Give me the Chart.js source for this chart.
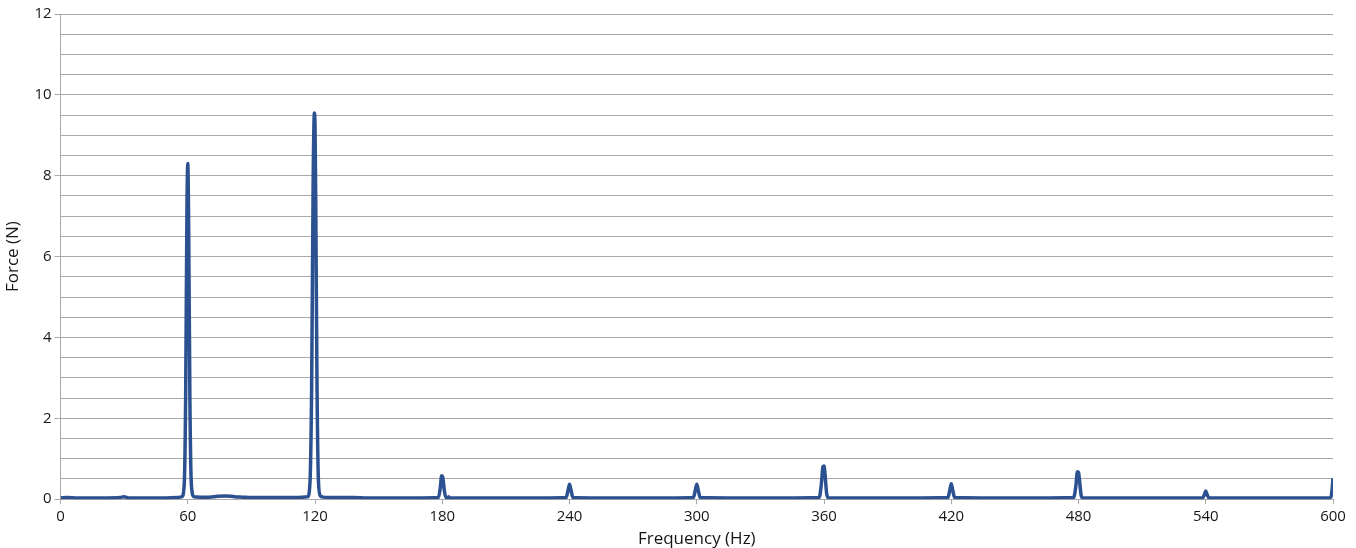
<!DOCTYPE html>
<html>
<head>
<meta charset="utf-8">
<script src="https://cdn.jsdelivr.net/npm/chart.js@4.4.1/dist/chart.umd.min.js"></script>
<style>
  html, body { margin: 0; padding: 0; background: #fff; }
  #wrap { width: 1356px; height: 548px; }
</style>
</head>
<body>
<div id="wrap"><canvas id="spectrum" width="1356" height="548"></canvas></div>
<script>
// spectrum samples (Hz / N)
const freq = [
  0, 3, 8, 15, 22, 28, 30, 32, 40, 48, 55,
  57.2, 58.3, 59.0, 59.6, 60, 60.4, 61.0, 61.7, 62.9,
  66, 70, 74, 78, 82, 86, 90, 96, 104, 112,
  116.5, 117.6, 118.4, 119.1, 119.7, 120, 120.3, 120.9, 121.6, 122.5, 123.8,
  130, 138, 145, 155, 170,
  178.2, 179.1, 179.7, 180.3, 181.0, 181.8, 182.6, 183, 183.4,
  190, 210, 230,
  238.4, 239.3, 240, 240.7, 241.6,
  250, 270, 290,
  298.4, 299.3, 300, 300.7, 301.6,
  320, 340,
  357.7, 358.7, 359.5, 360, 360.5, 361.3, 362.3,
  380, 400,
  418.4, 419.3, 420, 420.7, 421.6,
  440, 460,
  477.7, 478.7, 479.5, 480, 480.5, 481.3, 482.3,
  500, 520,
  538.5, 539.4, 540, 540.6, 541.5,
  560, 580,
  598.0, 599.0, 599.6, 600
];
const force = [
  0.03, 0.04, 0.03, 0.03, 0.03, 0.04, 0.06, 0.03, 0.03, 0.03, 0.04,
  0.06, 0.35, 2.6, 7.2, 8.3, 6.8, 2.4, 0.35, 0.06,
  0.05, 0.05, 0.07, 0.08, 0.06, 0.05, 0.04, 0.04, 0.04, 0.04,
  0.06, 0.4, 2.8, 7.8, 9.55, 9.2, 7.6, 3.0, 0.45, 0.08, 0.05,
  0.04, 0.04, 0.03, 0.03, 0.03,
  0.04, 0.3, 0.58, 0.52, 0.2, 0.04, 0.03, 0.06, 0.03,
  0.03, 0.03, 0.03,
  0.04, 0.22, 0.37, 0.22, 0.04,
  0.03, 0.03, 0.03,
  0.04, 0.22, 0.37, 0.22, 0.04,
  0.03, 0.03,
  0.04, 0.35, 0.8, 0.82, 0.6, 0.12, 0.03,
  0.03, 0.03,
  0.04, 0.22, 0.38, 0.22, 0.04,
  0.03, 0.03,
  0.04, 0.3, 0.68, 0.66, 0.45, 0.08, 0.03,
  0.03, 0.03,
  0.03, 0.12, 0.2, 0.12, 0.03,
  0.03, 0.03,
  0.03, 0.05, 0.25, 0.52
];
const xTicks = [0, 60, 120, 180, 240, 300, 360, 420, 480, 540, 600];
const yLabels = [0, 2, 4, 6, 8, 10, 12];

const lineColor = "#2b5190";
const gridColor = "#a9a9a9";
const textColor = "#161616";
const fontFamily = "'Open Sans', 'Noto Sans', sans-serif";

const points = freq.map((f, i) => ({ x: f, y: force[i] }));

new Chart(document.getElementById("spectrum"), {
  type: "line",
  data: {
    datasets: [{
      data: points,
      borderColor: lineColor,
      borderWidth: 3.5,
      pointRadius: 0,
      cubicInterpolationMode: "monotone",
      fill: false
    }]
  },
  options: {
    responsive: false,
    animation: false,
    layout: { padding: { left: 0, right: 23, top: 14, bottom: 0 } },
    plugins: { legend: { display: false }, tooltip: { enabled: false } },
    scales: {
      x: {
        type: "linear",
        min: 0,
        max: 600,
        afterBuildTicks: axis => { axis.ticks = xTicks.map(v => ({ value: v })); },
        ticks: { color: textColor, font: { family: fontFamily, size: 15 }, padding: 4, maxRotation: 0 },
        grid: { drawOnChartArea: false, drawTicks: true, tickLength: 5, color: gridColor },
        border: { display: true, color: gridColor, width: 1 },
        title: {
          display: true,
          text: "Frequency (Hz)",
          color: textColor,
          font: { family: fontFamily, size: 17, lineHeight: 1.05 },
          padding: { top: 0, bottom: 0 }
        }
      },
      y: {
        min: 0,
        max: 12,
        ticks: {
          stepSize: 0.5,
          autoSkip: false,
          color: textColor,
          font: { family: fontFamily, size: 15 },
          padding: 3,
          callback: v => (yLabels.includes(v) ? v : "")
        },
        grid: {
          color: gridColor,
          lineWidth: 1,
          tickLength: 6,
          tickColor: ctx => (yLabels.includes(ctx.tick.value) ? gridColor : "rgba(0,0,0,0)")
        },
        border: { display: true, color: gridColor, width: 1 },
        title: {
          display: true,
          text: "Force (N)",
          color: textColor,
          font: { family: fontFamily, size: 17 },
          padding: { top: 3, bottom: 8 }
        }
      }
    }
  }
});
</script>
</body>
</html>
